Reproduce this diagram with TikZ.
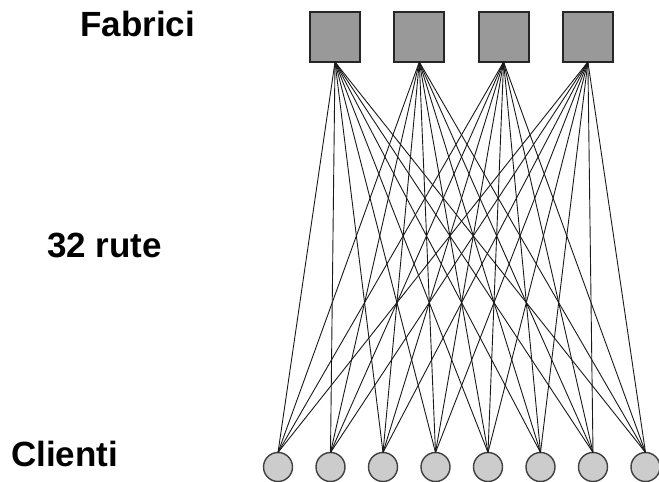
\documentclass[tikz,border=0pt]{standalone}
\usepackage{fontspec}
\setmainfont{Liberation Sans}
\usetikzlibrary{positioning}

\begin{document}
\begin{tikzpicture}[%
        x=1pt, y=1pt,
        node distance=34.3pt,
        fabrica/.style={%
          rectangle,
          minimum size=50pt,
          inner sep=0pt, outer sep=0pt,
          draw=black!85, line width=1.8pt,
          fill=black!40
        },
        client/.style={%
          circle,
          minimum size=29pt,
          inner sep=0pt, outer sep=0pt,
          draw=black!75, line width=1.4pt,
          fill=black!20
        },
        ruta/.style={black!90, line width=0.9pt},
        eticheta/.style={anchor=base west, inner sep=0pt,
          font=\fontsize{35}{40}\selectfont\bfseries}
      ]
      \useasboundingbox (0,0) rectangle (659,482);
      % fabrici
      \node[fabrica] (f1) at (335,445) {};
      \node[fabrica] (f2) [right=of f1] {};
      \node[fabrica] (f3) [right=of f2] {};
      \node[fabrica] (f4) [right=of f3] {};
      % clienti
      \node[client] (c1) at (278,15) {};
      \node[client] (c2) [right=23.5pt of c1] {};
      \node[client] (c3) [right=23.5pt of c2] {};
      \node[client] (c4) [right=23.5pt of c3] {};
      \node[client] (c5) [right=23.5pt of c4] {};
      \node[client] (c6) [right=23.5pt of c5] {};
      \node[client] (c7) [right=23.5pt of c6] {};
      \node[client] (c8) [right=23.5pt of c7] {};
      % rute: fiecare fabrica la fiecare client
      \foreach \f in {1,...,4}
        \foreach \c in {1,...,8}
          \draw[ruta] (f\f.south) -- (c\c.north);
      \node[eticheta] (fabrici) at (80,445) {Fabrici};
      \node[eticheta] (rute) at (47,224) {32 rute};
      \node[eticheta] (clienti) at (11,15) {Clienti};
\end{tikzpicture}
\end{document}
